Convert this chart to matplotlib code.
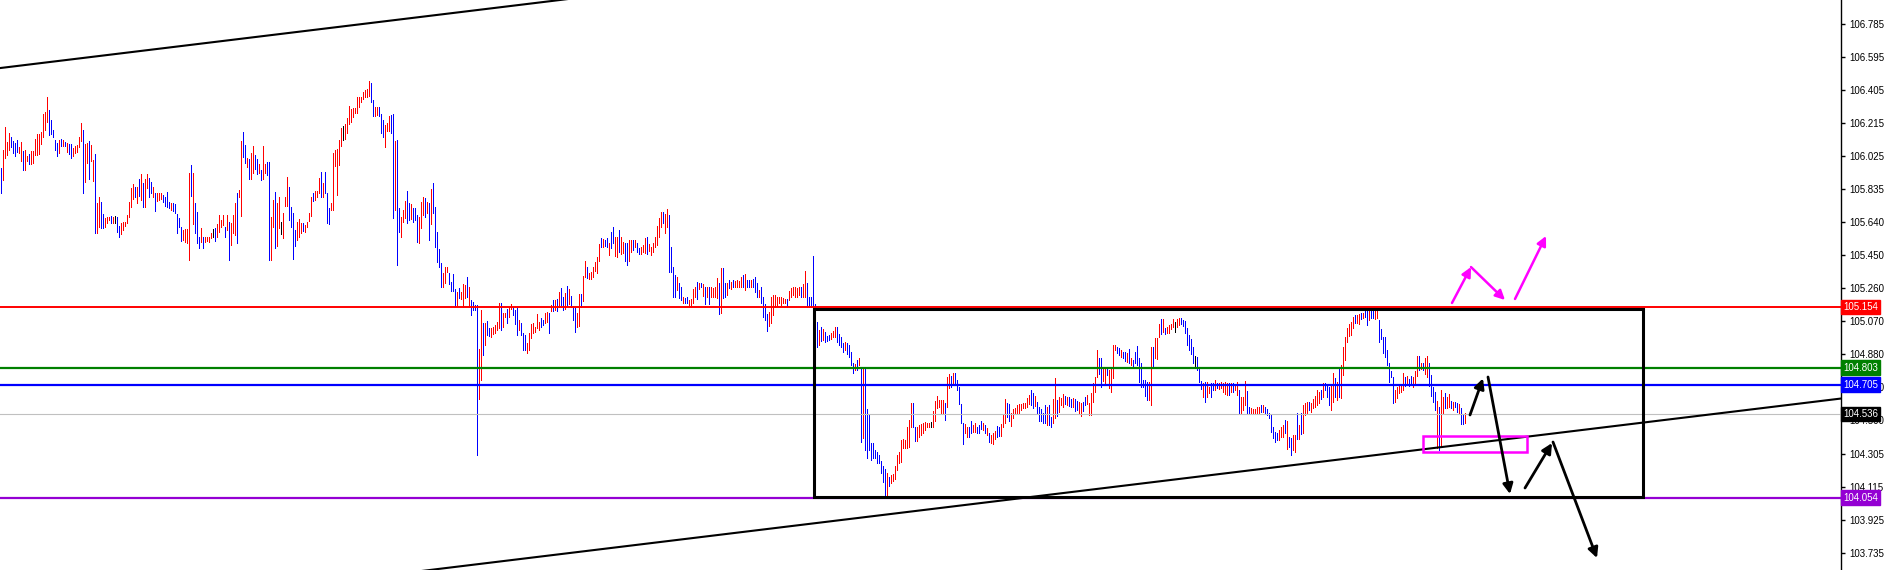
import matplotlib
matplotlib.use("Agg")
import matplotlib.pyplot as plt
from matplotlib.patches import Rectangle

# ---- price bars (high / low per bar) ----
high_a = [105.952, 106.058, 106.193, 106.106, 106.158, 106.131, 106.112, 106.096, 106.116, 106.073,
          106.106, 106.054, 106.058, 106.023, 106.035, 106.054, 106.054, 106.120, 106.150, 106.150,
          106.164, 106.266, 106.279, 106.366, 106.289, 106.231, 106.173, 106.116, 106.096, 106.116,
          106.120, 106.116, 106.106, 106.100, 106.093, 106.093, 106.068, 106.081, 106.087, 106.131,
          106.212, 106.173, 106.093, 106.096, 106.112, 106.087, 106.000, 106.035, 105.754, 105.785,
          105.760, 105.689, 105.664, 105.670, 105.674, 105.677, 105.674, 105.677, 105.674, 105.620,
          105.635, 105.645, 105.645, 105.683, 105.760, 105.837, 105.862, 105.847, 105.847, 105.889,
          105.920, 105.866, 105.889, 105.920, 105.895, 105.875, 105.843, 105.812, 105.808, 105.812,
          105.812, 105.799, 105.785, 105.816, 105.760, 105.754, 105.751, 105.747, 105.689, 105.664,
          105.616, 105.597, 105.601, 105.601, 105.924, 105.972, 105.924, 105.754, 105.702, 105.558,
          105.610, 105.558, 105.558, 105.558, 105.555, 105.581, 105.601, 105.606, 105.631, 105.681,
          105.654, 105.681, 105.616, 105.681, 105.645, 105.639, 105.683, 105.754, 105.812, 105.827,
          106.112, 106.164, 106.085, 106.010, 106.004, 106.039, 106.081, 106.029, 106.004, 105.977,
          105.943, 106.081, 105.977, 105.991, 105.991, 105.674, 105.770, 105.818, 105.751, 105.789,
          105.645, 105.697, 105.785, 105.900, 105.847, 105.727, 105.697, 105.597, 105.645, 105.658,
          105.635, 105.639, 105.626, 105.645, 105.693, 105.789, 105.808, 105.824, 105.824, 105.895,
          105.933, 105.870, 105.933, 105.812, 105.722, 105.754, 106.039, 106.058, 106.062, 106.116,
          106.183, 106.196, 106.208, 106.241, 106.312, 106.293, 106.298, 106.298, 106.362, 106.366,
          106.362, 106.394, 106.404, 106.408, 106.458, 106.446, 106.346, 106.304, 106.304, 106.304,
          106.266, 106.231, 106.202, 106.212, 106.254, 106.260, 106.266, 106.112, 106.116, 105.723]
low_a = [105.812, 105.885, 106.010, 106.029, 106.058, 106.077, 106.039, 106.023, 106.048, 106.043,
         105.997, 105.943, 105.943, 105.997, 105.977, 105.977, 105.981, 106.029, 106.029, 106.035,
         106.093, 106.135, 106.173, 106.221, 106.145, 106.150, 106.131, 106.058, 106.023, 106.039,
         106.081, 106.081, 106.081, 106.048, 106.035, 106.014, 106.023, 106.043, 106.048, 106.073,
         106.112, 105.808, 105.875, 105.981, 105.889, 105.997, 105.881, 105.578, 105.578, 105.616,
         105.606, 105.606, 105.612, 105.635, 105.654, 105.639, 105.635, 105.635, 105.587, 105.558,
         105.574, 105.597, 105.620, 105.635, 105.674, 105.727, 105.774, 105.789, 105.754, 105.793,
         105.770, 105.727, 105.727, 105.837, 105.789, 105.808, 105.789, 105.708, 105.766, 105.770,
         105.774, 105.760, 105.735, 105.731, 105.722, 105.712, 105.708, 105.697, 105.578, 105.616,
         105.535, 105.539, 105.530, 105.524, 105.424, 105.793, 105.631, 105.581, 105.524, 105.491,
         105.530, 105.491, 105.530, 105.535, 105.530, 105.549, 105.558, 105.535, 105.558, 105.587,
         105.616, 105.624, 105.558, 105.597, 105.424, 105.510, 105.578, 105.568, 105.524, 105.789,
         105.677, 106.020, 105.985, 105.962, 105.893, 105.889, 105.924, 105.947, 105.920, 105.927,
         105.885, 105.889, 105.927, 105.914, 105.424, 105.424, 105.616, 105.491, 105.505, 105.606,
         105.574, 105.549, 105.735, 105.735, 105.654, 105.616, 105.428, 105.505, 105.539, 105.558,
         105.581, 105.593, 105.587, 105.616, 105.651, 105.677, 105.766, 105.770, 105.785, 105.812,
         105.785, 105.785, 105.808, 105.635, 105.631, 105.712, 105.712, 105.966, 105.799, 105.972,
         106.081, 106.116, 106.120, 106.158, 106.208, 106.221, 106.246, 106.273, 106.273, 106.304,
         106.337, 106.350, 106.362, 106.366, 106.369, 106.337, 106.254, 106.254, 106.260, 106.254,
         106.158, 106.131, 106.073, 106.170, 106.170, 106.154, 105.664, 105.712, 105.395, 105.585]
dir_a = ("brrrrbbbbr" "rbrrbrrrrr" "rrrrbbbbbr" "brbrbbrrrr" "rbrrbrrbrr"
         "bbrrrbrkbb" "rrrrrrrbrb" "rbrrbbrbrr" "rbbbbrbbbb" "brrrrbrbbb"
         "rbrrrrkbrr" "rrbrbrrrbr" "rbbrbrrbbr" "brrbbrrbrr" "krrrbbbbrr"
         "rbrrrrbrrr" "brbbbrrrrr" "rkrrrrrrrr" "rrrrrbbrrb" "bbrrrbbrbb")

high_b = [105.674, 105.712, 105.766, 105.824, 105.750, 105.747, 105.722, 105.722, 105.683, 105.674,
          105.760, 105.785, 105.779, 105.760, 105.750, 105.831, 105.870, 105.731, 105.587, 105.485,
          105.408, 105.347, 105.381, 105.385, 105.347, 105.299, 105.343, 105.255, 105.241, 105.260,
          105.241, 105.285, 105.280, 105.324, 105.270, 105.193, 105.183, 105.164, 105.164, 104.910,
          105.135, 105.060, 105.059, 105.074, 105.030, 105.030, 105.039, 105.049, 105.068, 105.174,
          105.174, 105.116, 105.116, 105.139, 105.155, 105.170, 105.151, 105.135, 105.145, 105.078,
          105.059, 105.005, 104.991, 104.943, 105.001, 105.055, 105.059, 105.039, 105.112, 105.068,
          105.087, 105.078, 105.120, 105.126, 105.120, 105.164, 105.193, 105.193, 105.197, 105.241,
          105.264, 105.212, 105.232, 105.274, 105.255, 105.216, 105.158, 105.145, 105.116, 105.228,
          105.228, 105.331, 105.420, 105.381, 105.351, 105.356, 105.381, 105.414, 105.439, 105.516,
          105.551, 105.543, 105.539, 105.549, 105.520, 105.587, 105.616, 105.554, 105.554, 105.597,
          105.554, 105.529, 105.520, 105.524, 105.539, 105.539, 105.539, 105.539, 105.520, 105.491,
          105.501, 105.510, 105.549, 105.554, 105.516, 105.501, 105.524, 105.554, 105.620, 105.664,
          105.702, 105.702, 105.689, 105.716, 105.683, 105.501, 105.381, 105.337, 105.328, 105.293,
          105.270, 105.212, 105.203, 105.212, 105.193, 105.197, 105.255, 105.270, 105.299, 105.293,
          105.293, 105.285, 105.270, 105.266, 105.266, 105.270, 105.260, 105.266, 105.318, 105.293,
          105.376, 105.376, 105.293, 105.289, 105.308, 105.299, 105.308, 105.304, 105.308, 105.304,
          105.328, 105.337, 105.343, 105.308, 105.308, 105.308, 105.312, 105.328, 105.293, 105.251,
          105.270, 105.212, 105.170, 105.112, 105.126, 105.208, 105.220, 105.222, 105.212, 105.212,
          105.212, 105.203, 105.197, 105.197, 105.247, 105.262, 105.266, 105.266, 105.262, 105.270,
          105.266, 105.285, 105.362, 105.289, 105.212, 105.212, 105.447, 105.170]
low_b = [105.554, 105.645, 105.664, 105.639, 105.654, 105.658, 105.645, 105.654, 105.529, 105.524,
         105.606, 105.683, 105.674, 105.693, 105.539, 105.631, 105.693, 105.501, 105.414, 105.381,
         105.266, 105.266, 105.293, 105.356, 105.285, 105.247, 105.247, 105.158, 105.164, 105.203,
         105.197, 105.155, 105.203, 105.212, 105.155, 105.107, 105.135, 105.135, 104.300, 104.620,
         104.732, 104.876, 104.934, 104.991, 104.986, 104.982, 104.997, 105.005, 105.020, 105.030,
         105.020, 105.039, 105.093, 105.059, 105.093, 105.139, 105.107, 105.055, 104.991, 105.020,
         104.991, 104.905, 104.905, 104.886, 104.905, 104.972, 105.001, 105.010, 105.030, 105.020,
         105.039, 105.049, 105.059, 105.068, 105.001, 105.132, 105.132, 105.135, 105.132, 105.155,
         105.164, 105.135, 105.139, 105.164, 105.170, 105.155, 105.078, 105.010, 105.035, 105.043,
         105.151, 105.189, 105.324, 105.318, 105.312, 105.312, 105.324, 105.362, 105.351, 105.420,
         105.501, 105.497, 105.504, 105.501, 105.453, 105.491, 105.520, 105.447, 105.443, 105.472,
         105.458, 105.466, 105.420, 105.395, 105.420, 105.472, 105.481, 105.501, 105.472, 105.458,
         105.458, 105.472, 105.462, 105.458, 105.478, 105.453, 105.472, 105.497, 105.510, 105.554,
         105.612, 105.639, 105.577, 105.612, 105.356, 105.356, 105.212, 105.212, 105.251, 105.203,
         105.193, 105.178, 105.174, 105.178, 105.155, 105.155, 105.178, 105.212, 105.197, 105.255,
         105.266, 105.216, 105.170, 105.208, 105.170, 105.212, 105.212, 105.212, 105.203, 105.112,
         105.120, 105.203, 105.212, 105.222, 105.260, 105.255, 105.266, 105.270, 105.266, 105.266,
         105.266, 105.270, 105.251, 105.266, 105.266, 105.266, 105.266, 105.241, 105.208, 105.212,
         105.178, 105.097, 105.078, 105.016, 105.043, 105.059, 105.107, 105.155, 105.164, 105.174,
         105.164, 105.174, 105.174, 105.155, 105.193, 105.212, 105.222, 105.212, 105.212, 105.222,
         105.212, 105.212, 105.212, 105.155, 105.151, 105.151, 105.151, 105.151]
dir_b = ("rrrbbrbbbr" "rrbrbrbbbb" "brrrbbbbrb" "rrrbrbbbbr" "rbrbbrrrrr"
         "brrbrrbbbr" "bbbrrrrrrr" "bbrrbrbrbr" "bbrbrbbbrr" "brrbrrrrrr"
         "brbbrbbrrb" "rrbbrrbrbb" "rrrbrrrrrr" "rbrrbbbbrb" "brbbrrrrbr"
         "brbrbrrrrb" "rbbrbrbrrr" "rbrbbrbbbr" "bbbbrrrrrr" "rrrbrrrrrr" "brrbbbbb")

high_c = [105.068, 105.020, 105.039, 105.024, 105.010, 104.985, 104.991, 105.004, 105.016, 105.035,
          105.039, 104.997, 104.977, 104.943, 104.952, 104.947, 104.933, 104.895, 104.828, 104.824,
          104.847, 104.856, 104.804, 104.808, 104.804, 104.562, 104.535, 104.366, 104.370, 104.328,
          104.318, 104.299, 104.266, 104.236, 104.216, 104.193, 104.174, 104.184, 104.189, 104.236,
          104.299, 104.318, 104.385, 104.389, 104.385, 104.462, 104.501, 104.597, 104.597, 104.462,
          104.462, 104.472, 104.478, 104.485, 104.491, 104.485, 104.485, 104.491, 104.555, 104.612,
          104.639, 104.616, 104.616, 104.616, 104.597, 104.751, 104.766, 104.754, 104.770, 104.774,
          104.731, 104.689, 104.593, 104.482, 104.478, 104.462, 104.462, 104.497, 104.472, 104.482,
          104.462, 104.472, 104.497, 104.482, 104.472, 104.453, 104.424, 104.414, 104.424, 104.439,
          104.466, 104.462, 104.478, 104.535, 104.620, 104.597, 104.593, 104.539, 104.562, 104.568,
          104.587, 104.593, 104.593, 104.597, 104.601, 104.626, 104.645, 104.674, 104.655, 104.639,
          104.606, 104.578, 104.562, 104.539, 104.587, 104.578, 104.587, 104.520, 104.620, 104.741,
          104.616, 104.635, 104.626, 104.651, 104.639, 104.635, 104.635, 104.620, 104.626, 104.620,
          104.612, 104.606, 104.597, 104.606, 104.635, 104.645, 104.601, 104.655, 104.712, 104.751,
          104.904, 104.856, 104.856, 104.808, 104.808, 104.799, 104.789, 104.804, 104.933, 104.933,
          104.924, 104.914, 104.904, 104.895, 104.895, 104.885, 104.908, 104.856, 104.847, 104.895,
          104.927, 104.856, 104.828, 104.731, 104.731, 104.722, 104.722]
low_c = [104.924, 104.933, 104.958, 104.962, 104.952, 104.958, 104.962, 104.966, 104.977, 104.977,
         104.952, 104.933, 104.924, 104.895, 104.904, 104.881, 104.866, 104.818, 104.770, 104.789,
         104.789, 104.818, 104.376, 104.395, 104.328, 104.280, 104.328, 104.270, 104.280, 104.280,
         104.251, 104.251, 104.193, 104.145, 104.059, 104.059, 104.120, 104.136, 104.151, 104.159,
         104.213, 104.251, 104.261, 104.337, 104.337, 104.337, 104.343, 104.458, 104.462, 104.382,
         104.382, 104.401, 104.414, 104.424, 104.443, 104.458, 104.458, 104.462, 104.458, 104.497,
         104.568, 104.574, 104.539, 104.543, 104.501, 104.578, 104.683, 104.689, 104.716, 104.716,
         104.674, 104.593, 104.482, 104.362, 104.428, 104.405, 104.405, 104.424, 104.434, 104.434,
         104.424, 104.424, 104.447, 104.443, 104.424, 104.414, 104.376, 104.366, 104.362, 104.389,
         104.405, 104.409, 104.409, 104.462, 104.482, 104.520, 104.497, 104.466, 104.510, 104.539,
         104.535, 104.539, 104.558, 104.568, 104.568, 104.578, 104.593, 104.587, 104.568, 104.581,
         104.539, 104.497, 104.497, 104.485, 104.482, 104.472, 104.472, 104.462, 104.482, 104.510,
         104.524, 104.549, 104.587, 104.578, 104.593, 104.587, 104.581, 104.578, 104.574, 104.555,
         104.558, 104.543, 104.524, 104.555, 104.587, 104.593, 104.530, 104.530, 104.606, 104.664,
         104.751, 104.766, 104.693, 104.728, 104.712, 104.760, 104.683, 104.664, 104.741, 104.904,
         104.885, 104.876, 104.866, 104.856, 104.843, 104.837, 104.828, 104.818, 104.808, 104.828,
         104.818, 104.722, 104.689, 104.689, 104.639, 104.616, 104.616]
dir_c = ("brbrbbbrrr" "bbbbrbbbbr" "brbrbbbbbb" "bbbbbrbrrr" "rrrrrrrrbb"
         "rrrrrrrkrr" "rrrrbrrbrb" "bbbbrrbbrr" "bbbrbrbrrr" "bbrrrbbrrr"
         "rrrrrrrbbr" "bbbbbrbbrr" "brrrbrbbrb" "brrbbrrrrr" "rbbrrbrrrr"
         "bbrbbrbrbb" "bbbbbbr")

high_d = [104.924, 104.924, 104.972, 104.972, 105.054, 105.081, 105.081, 105.029, 105.039, 105.049,
          105.054, 105.081, 105.068, 105.081, 105.087, 105.087, 105.077, 105.074, 105.029, 104.991,
          104.966, 104.920, 104.870, 104.866, 104.799, 104.728, 104.716, 104.722, 104.722, 104.693,
          104.716, 104.716, 104.731, 104.716, 104.716, 104.722, 104.712, 104.722, 104.712, 104.712,
          104.712, 104.716, 104.708, 104.722, 104.674, 104.635, 104.635, 104.728, 104.670, 104.578,
          104.568, 104.562, 104.562, 104.578, 104.578, 104.587, 104.587, 104.578, 104.562, 104.543,
          104.530, 104.462, 104.434, 104.424, 104.443, 104.462, 104.472, 104.501, 104.497, 104.405,
          104.395, 104.414, 104.414, 104.543, 104.472, 104.539, 104.587, 104.597, 104.606, 104.606,
          104.597, 104.620, 104.639, 104.674, 104.664, 104.674, 104.712, 104.712, 104.697, 104.693,
          104.703, 104.774, 104.741, 104.722, 104.799, 104.818, 104.920, 104.977, 105.029, 105.054,
          105.068, 105.097, 105.106, 105.106, 105.112, 105.120, 105.120, 105.131, 105.131, 105.135,
          105.131, 105.131, 105.131, 105.135, 105.077, 105.024, 104.977, 104.977, 104.904, 104.831,
          104.785, 104.751, 104.674, 104.693, 104.703, 104.697, 104.770, 104.751, 104.754, 104.735,
          104.754, 104.751, 104.785, 104.870, 104.870, 104.828, 104.828, 104.856, 104.870, 104.828,
          104.760, 104.689, 104.664, 104.612, 104.578, 104.674, 104.635, 104.655, 104.635, 104.651,
          104.612, 104.606, 104.606, 104.601, 104.593, 104.568, 104.530, 104.539]
low_d = [104.587, 104.808, 104.856, 104.851, 104.977, 104.997, 105.010, 104.997, 105.000, 105.004,
         105.024, 105.035, 105.010, 105.039, 105.049, 105.054, 105.043, 105.000, 104.933, 104.904,
         104.881, 104.828, 104.804, 104.789, 104.722, 104.678, 104.635, 104.606, 104.635, 104.655,
         104.635, 104.674, 104.674, 104.683, 104.678, 104.683, 104.664, 104.651, 104.645, 104.645,
         104.664, 104.664, 104.674, 104.645, 104.539, 104.539, 104.558, 104.587, 104.539, 104.535,
         104.535, 104.539, 104.539, 104.543, 104.539, 104.549, 104.549, 104.539, 104.530, 104.510,
         104.434, 104.395, 104.376, 104.385, 104.385, 104.405, 104.405, 104.428, 104.332, 104.347,
         104.299, 104.328, 104.318, 104.389, 104.389, 104.420, 104.428, 104.530, 104.539, 104.558,
         104.549, 104.568, 104.578, 104.587, 104.597, 104.620, 104.635, 104.674, 104.635, 104.587,
         104.558, 104.606, 104.635, 104.616, 104.635, 104.626, 104.760, 104.847, 104.952, 104.985,
         104.991, 105.029, 105.062, 105.062, 105.054, 105.081, 105.087, 105.093, 105.049, 105.077,
         105.087, 105.087, 105.081, 105.087, 104.952, 104.966, 104.885, 104.866, 104.818, 104.722,
         104.751, 104.597, 104.606, 104.626, 104.655, 104.664, 104.674, 104.697, 104.712, 104.697,
         104.712, 104.693, 104.703, 104.754, 104.789, 104.793, 104.789, 104.766, 104.751, 104.697,
         104.639, 104.606, 104.558, 104.337, 104.328, 104.347, 104.539, 104.568, 104.568, 104.578,
         104.568, 104.558, 104.578, 104.549, 104.539, 104.478, 104.478, 104.485]
dir_d = ("rbrrrbrbrr" "rrkrrbbbbb" "bbkbbbrbrr" "bbrbrrrrrb" "rbrrbrrrbb"
         "rrrrrbrbbb" "bbbbrrrbrb" "brrbrbrrrb" "rrrrrbrbbb" "rrbrbrrrrr"
         "rrbrrbrbbr" "bbrrbbbbbb" "bbrrrrrbrb" "brrrbrbrrb" "bbbrbrrbrr" "brbbrbbr")

highs = high_a + high_b + high_c + high_d
lows = low_a + low_b + low_c + low_d
dirs = dir_a + dir_b + dir_c + dir_d

# ---- horizontal levels and their price tags ----
level_prices = [105.154, 104.803, 104.705, 104.536, 104.054]
level_colors = ["#ff0000", "#008000", "#0000ff", "#c0c0c0", "#9400d3"]
level_widths = [1.4, 1.6, 1.6, 0.8, 1.6]
tag_colors = ["#ff0000", "#008000", "#0000ff", "#000000", "#9400d3"]

tick_values = [106.785, 106.595, 106.405, 106.215, 106.025, 105.835, 105.640, 105.450, 105.260,
               105.070, 104.880, 104.690, 104.500, 104.305, 104.115, 103.925, 103.735]

# ---- drawn objects, in (bar index, price) ----
channel_top = [(-1, 106.530), (300, 106.952)]
channel_bottom = [(200, 103.616), (920, 104.625)]
range_box = (406.6, 820.85, 104.056, 105.140)
pink_box = (710.85, 762.85, 104.316, 104.409)
pink_arrows = [((725.35, 105.176), (734.85, 105.383)),
               ((734.85, 105.383), (751.85, 105.193)),
               ((756.85, 105.199), (772.35, 105.562))]
black_arrows = [((734.35, 104.530), (740.85, 104.741)),
                ((743.35, 104.749), (754.35, 104.074)),
                ((761.85, 104.109), (775.35, 104.368)),
                ((775.85, 104.374), (797.85, 103.705))]

W, H = 1889, 570
fig = plt.figure(figsize=(W / 100, H / 100), dpi=100)
ax = fig.add_axes([0, 0, 1841 / W, 1])

cmap = {"r": "#ff0000", "b": "#0000ff", "k": "#000000"}
xs = list(range(len(highs)))
ax.vlines(xs, lows, highs, colors=[cmap[d] for d in dirs], lw=0.7,
          antialiased=False, zorder=2)

for p, c, w in zip(level_prices, level_colors, level_widths):
    ax.axhline(p, color=c, lw=w, zorder=3)

for pts in (channel_top, channel_bottom):
    ax.plot([pts[0][0], pts[1][0]], [pts[0][1], pts[1][1]], color="black", lw=1.5, zorder=4)

x0, x1, y0, y1 = range_box
ax.add_patch(Rectangle((x0, y0), x1 - x0, y1 - y0, fill=False, ec="black", lw=2.2, zorder=4))
x0, x1, y0, y1 = pink_box
ax.add_patch(Rectangle((x0, y0), x1 - x0, y1 - y0, fill=False, ec="#ff00ff", lw=1.8, zorder=4))

for start, end in pink_arrows:
    ax.annotate("", xy=end, xytext=start, zorder=5,
                arrowprops=dict(arrowstyle="-|>", color="#ff00ff", lw=1.8,
                                mutation_scale=14, shrinkA=0, shrinkB=0))
for start, end in black_arrows:
    ax.annotate("", xy=end, xytext=start, zorder=5,
                arrowprops=dict(arrowstyle="-|>", color="black", lw=2.0,
                                mutation_scale=15, shrinkA=0, shrinkB=0))

ax.set_xlim(-0.65, 919.85)
ax.set_ylim(103.636, 106.923)
ax.set_xticks([])
ax.yaxis.tick_right()
ax.set_yticks(tick_values)
ax.set_yticklabels([f"{v:.3f}" for v in tick_values])
ax.tick_params(axis="y", length=3, width=1, pad=3, labelsize=7, colors="black")
for lab in ax.get_yticklabels():
    lab.set_fontfamily("Liberation Sans")
for s in ("top", "left", "bottom"):
    ax.spines[s].set_visible(False)
ax.spines["right"].set_linewidth(1)

for p, c in zip(level_prices, tag_colors):
    ax.text(1.0012, p, f"{p:.3f}", transform=ax.get_yaxis_transform(), ha="left", va="center",
            fontsize=7, family="Liberation Sans", color="white", clip_on=False, zorder=10,
            bbox=dict(boxstyle="square,pad=0.22", fc=c, ec=c))

fig.savefig("out.png", dpi=100)
